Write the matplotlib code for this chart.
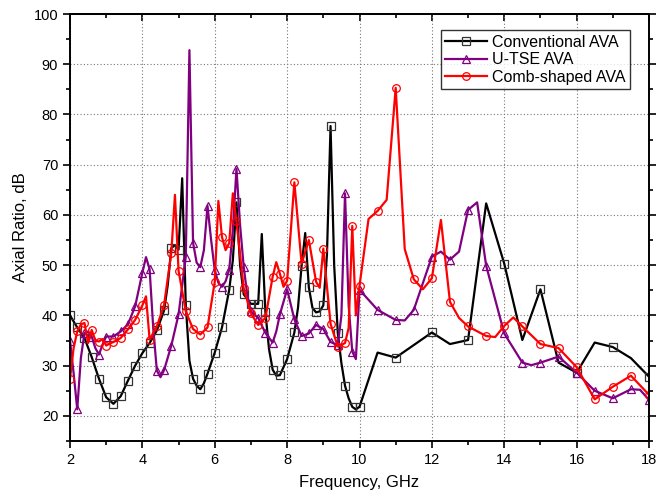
import matplotlib
matplotlib.use("Agg")
import matplotlib.pyplot as plt
from matplotlib.ticker import MultipleLocator

plt.rcParams['font.family'] = ['Liberation Sans', 'DejaVu Sans']

conv_f = [2.0, 2.2, 2.4, 2.6, 2.8, 3.0, 3.2, 3.4, 3.6, 3.8, 4.0, 4.2, 4.4, 4.6, 4.7, 4.8, 4.9, 5.0,
          5.1, 5.2, 5.3, 5.4, 5.5, 5.6, 5.7, 5.8, 6.0, 6.2, 6.4, 6.5, 6.6, 6.7, 6.8, 7.0, 7.2, 7.3,
          7.4, 7.5, 7.6, 7.7, 7.8, 8.0, 8.2, 8.3, 8.4, 8.5, 8.6, 8.7, 8.8, 8.9, 9.0, 9.1, 9.2, 9.3,
          9.4, 9.5, 9.6, 9.7, 9.8, 9.9, 10.0, 10.5, 11.0, 12.0, 12.5, 13.0, 13.5, 14.0, 14.5, 15.0,
          15.5, 16.0, 16.5, 17.0, 17.5, 18.0]
conv_ar = [40.0, 37.6, 35.5, 31.7, 27.4, 23.7, 22.4, 23.9, 27.0, 30.0, 32.5, 34.5, 37.0, 41.0, 46.0,
           53.4, 54.0, 53.1, 67.3, 42.0, 31.0, 27.4, 26.0, 25.3, 26.5, 28.4, 32.6, 37.6, 45.1, 51.0,
           62.5, 50.0, 44.2, 42.3, 42.3, 56.2, 40.6, 33.3, 29.2, 28.0, 28.1, 31.3, 36.6, 41.5, 49.9,
           56.4, 45.6, 41.5, 40.6, 40.8, 42.0, 52.0, 77.7, 50.0, 36.5, 30.5, 26.0, 23.5, 21.8, 21.3,
           21.8, 32.6, 31.6, 36.6, 34.3, 35.1, 62.3, 50.3, 35.1, 45.2, 30.6, 28.6, 34.6, 33.7, 31.5,
           27.8]

utse_f = [2.0, 2.1, 2.2, 2.3, 2.4, 2.5, 2.6, 2.7, 2.8, 2.9, 3.0, 3.2, 3.4, 3.6, 3.8, 4.0, 4.1, 4.2,
          4.3, 4.4, 4.5, 4.6, 4.8, 5.0, 5.2, 5.3, 5.4, 5.5, 5.6, 5.7, 5.8, 5.9, 6.0, 6.1, 6.2, 6.3,
          6.4, 6.5, 6.6, 6.7, 6.8, 6.9, 7.0, 7.2, 7.4, 7.6, 7.7, 7.8, 8.0, 8.2, 8.4, 8.6, 8.8, 9.0,
          9.2, 9.4, 9.5, 9.6, 9.7, 9.8, 9.9, 10.0, 10.5, 11.0, 11.25, 11.5, 12.0, 12.25, 12.5, 12.75,
          13.0, 13.25, 13.5, 14.0, 14.5, 14.75, 15.0, 15.5, 16.0, 16.5, 17.0, 17.5, 17.75, 18.0]
utse_ar = [35.0, 28.5, 21.3, 31.5, 36.5, 36.8, 35.8, 33.5, 32.2, 34.2, 35.8, 35.8, 36.8, 38.2, 41.8,
           48.5, 51.6, 49.2, 37.5, 29.0, 27.7, 29.1, 34.0, 40.2, 51.7, 92.8, 54.5, 50.5, 49.6, 53.0,
           61.8, 55.0, 49.0, 46.5, 45.7, 46.8, 49.1, 57.0, 69.2, 58.0, 49.7, 44.0, 40.8, 39.5, 36.5,
           34.6, 36.8, 40.2, 45.2, 39.2, 35.9, 36.4, 38.1, 37.3, 34.7, 34.1, 40.0, 64.3, 42.0, 32.8,
           31.3, 45.1, 41.1, 39.1, 39.0, 41.1, 51.7, 52.7, 51.1, 52.7, 61.0, 62.5, 49.9, 36.4, 30.6,
           30.1, 30.6, 31.8, 28.6, 25.0, 23.5, 25.3, 25.2, 23.2]

comb_f = [2.0, 2.1, 2.2, 2.3, 2.4, 2.5, 2.6, 2.7, 2.8, 2.9, 3.0, 3.1, 3.2, 3.4, 3.6, 3.8, 4.0, 4.1,
          4.2, 4.4, 4.6, 4.8, 4.9, 5.0, 5.2, 5.4, 5.6, 5.8, 6.0, 6.1, 6.2, 6.3, 6.4, 6.5, 6.6, 6.8,
          7.0, 7.2, 7.4, 7.6, 7.7, 7.8, 7.9, 8.0, 8.2, 8.4, 8.6, 8.8, 8.9, 9.0, 9.2, 9.4, 9.6, 9.7,
          9.8, 9.9, 10.0, 10.25, 10.5, 10.75, 11.0, 11.25, 11.5, 11.75, 12.0, 12.25, 12.5, 12.75,
          13.0, 13.5, 13.75, 14.0, 14.25, 14.5, 15.0, 15.5, 16.0, 16.5, 17.0, 17.5, 18.0]
comb_ar = [27.4, 33.5, 36.8, 38.2, 38.5, 34.5, 37.1, 35.0, 34.8, 35.3, 34.0, 34.4, 34.7, 35.5, 37.2,
           39.1, 42.0, 43.8, 35.2, 37.8, 42.1, 52.5, 64.0, 48.9, 40.8, 37.3, 36.2, 37.6, 46.7, 62.8,
           55.6, 53.0, 54.4, 64.3, 58.7, 45.4, 40.4, 38.1, 39.5, 47.7, 50.6, 48.3, 45.7, 46.9, 66.5,
           50.3, 55.0, 46.7, 45.5, 53.3, 38.3, 33.8, 34.5, 37.5, 57.8, 40.0, 45.9, 59.2, 60.8, 63.0,
           85.3, 53.2, 47.2, 45.2, 47.4, 59.0, 42.7, 39.5, 37.8, 35.9, 35.7, 37.9, 39.6, 37.8, 34.3,
           33.5, 29.7, 23.3, 25.8, 28.0, 24.2]

labels = ["Conventional AVA", "U-TSE AVA", "Comb-shaped AVA"]
colors = ["black", "#800080", "red"]
markers = ["s", "^", "o"]


def marks(freqs, high_step):
    idx = []
    for i, f in enumerate(freqs):
        if f <= 10.0:
            if round(f * 10) % 2 == 0:
                idx.append(i)
        else:
            if abs(f / high_step - round(f / high_step)) < 1e-6:
                idx.append(i)
    return idx


fig = plt.figure(figsize=(6.56, 4.98), dpi=100)
ax = fig.add_axes([70 / 656, 1 - 441 / 498, 579 / 656, 427 / 498])

series = [(conv_f, conv_ar, 1.0), (utse_f, utse_ar, 0.5), (comb_f, comb_ar, 0.5)]
for (fx, fy, step), lab, c, m in zip(series, labels, colors, markers):
    ax.plot(fx, fy, color=c, lw=1.6, marker=m, markersize=5.5, markerfacecolor='none',
            markeredgecolor=c if c != "black" else "#333333", markeredgewidth=0.9,
            markevery=marks(fx, step), label=lab)

ax.set_xlim(2, 18)
ax.set_ylim(15, 100)
ax.xaxis.set_major_locator(MultipleLocator(2))
ax.xaxis.set_minor_locator(MultipleLocator(1))
ax.set_yticks([20, 30, 40, 50, 60, 70, 80, 90, 100])
ax.yaxis.set_minor_locator(MultipleLocator(5))

ax.grid(True, which='major', linestyle=(0, (1, 2)), color='#777777', linewidth=0.8)
ax.tick_params(which='both', direction='out', labelsize=10.5, width=1.2)
ax.tick_params(which='major', length=5)
ax.tick_params(which='minor', length=3)
ax.tick_params(which='both', top=False, right=True)
for s in ax.spines.values():
    s.set_linewidth(1.4)

top = ax.secondary_xaxis('top')
top.xaxis.set_major_locator(MultipleLocator(2))
top.xaxis.set_minor_locator(MultipleLocator(1))
top.tick_params(which='both', direction='in', labeltop=False, width=1.2)
top.tick_params(which='major', length=5)
top.tick_params(which='minor', length=3)
top.spines['top'].set_linewidth(1.4)

ax.set_xlabel("Frequency, GHz", fontsize=12, labelpad=6)
ax.set_ylabel("Axial Ratio, dB", fontsize=12, labelpad=4)

leg = ax.legend(loc='upper right', bbox_to_anchor=(630 / 656, 1 - 30 / 498),
                bbox_transform=fig.transFigure, fontsize=11.5, frameon=True, fancybox=False,
                edgecolor='black', borderpad=0.3, labelspacing=0.15, handlelength=2.6,
                handletextpad=0.3, borderaxespad=0)
leg.get_frame().set_linewidth(1.0)

fig.savefig("out.png", dpi=100)
